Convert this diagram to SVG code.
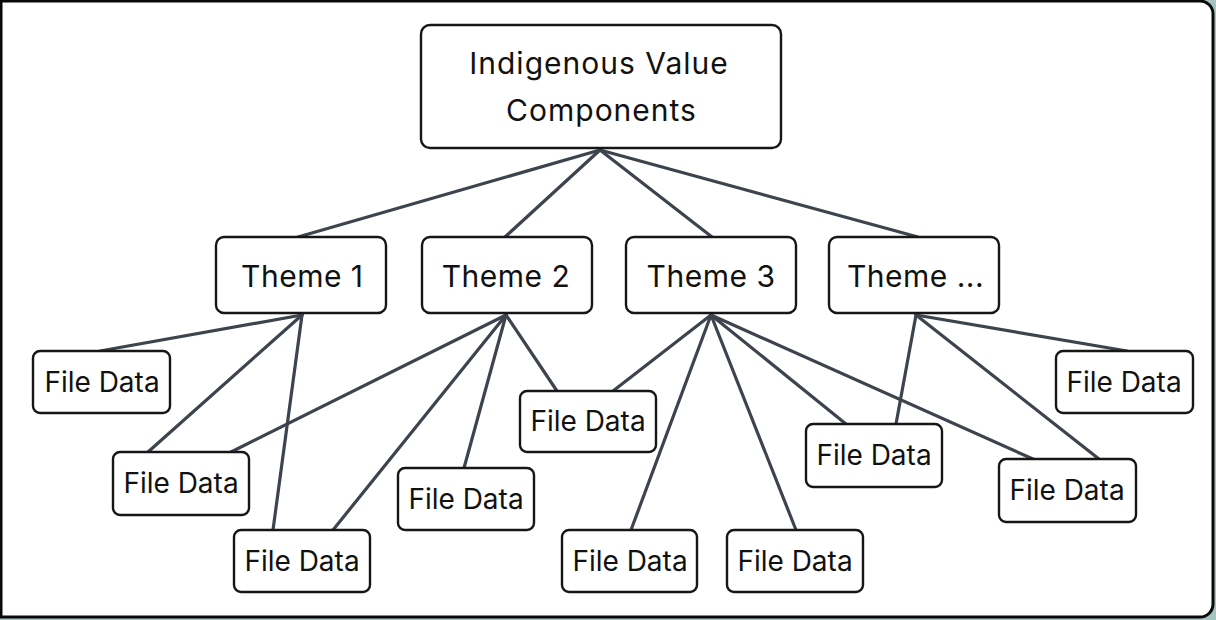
<svg xmlns="http://www.w3.org/2000/svg" width="1216" height="620" viewBox="0 0 1216 620">
<style>
.node rect{fill:#fff;stroke:#161616;stroke-width:2.4}
.t{font-family:Inter,"Liberation Sans",sans-serif;fill:#111;text-anchor:middle}
.big{font-size:30px;letter-spacing:1px}
.th{font-size:30px;letter-spacing:0.5px}
.fd{font-size:28px}
#connectors line{stroke:#3d444d;stroke-width:3.2;stroke-linecap:round}
</style>
<rect x="0" y="0" width="1216" height="620" fill="#a7c4c1"/>
<path d="M1,1 H1200 A13,13 0 0 1 1213,14 V604 A13,13 0 0 1 1200,617 H1 Z" fill="#fff" stroke="#0a0a0a" stroke-width="3"/>
<g id="connectors">
<line x1="600" y1="150" x2="298" y2="237"/>
<line x1="600" y1="150" x2="505" y2="237"/>
<line x1="600" y1="150" x2="712" y2="237"/>
<line x1="600" y1="150" x2="918" y2="237"/>
<line x1="302" y1="315" x2="100" y2="351"/>
<line x1="302" y1="315" x2="148" y2="452"/>
<line x1="302" y1="315" x2="273" y2="530"/>
<line x1="506" y1="315" x2="231" y2="452"/>
<line x1="506" y1="315" x2="333" y2="530"/>
<line x1="506" y1="315" x2="464" y2="468"/>
<line x1="506" y1="315" x2="557" y2="391"/>
<line x1="711" y1="315" x2="613" y2="391"/>
<line x1="711" y1="315" x2="631" y2="530"/>
<line x1="711" y1="315" x2="796" y2="530"/>
<line x1="711" y1="315" x2="846" y2="424"/>
<line x1="711" y1="315" x2="1033" y2="459"/>
<line x1="916" y1="315" x2="896" y2="424"/>
<line x1="916" y1="315" x2="1099" y2="459"/>
<line x1="916" y1="315" x2="1127" y2="351"/>
</g>
<g id="root" class="node"><rect x="421" y="25" width="360" height="123" rx="9"/><text class="t big" x="599" y="73.5">Indigenous Value</text><text class="t big" x="601.5" y="120.7">Components</text></g>
<g id="theme1" class="node"><rect x="216" y="237" width="170" height="76" rx="8"/><text class="t th" x="302.3" y="287">Theme 1</text></g>
<g id="theme2" class="node"><rect x="422" y="237" width="170" height="76" rx="8"/><text class="t th" x="506" y="287">Theme 2</text></g>
<g id="theme3" class="node"><rect x="626" y="237" width="170" height="76" rx="8"/><text class="t th" x="711" y="287">Theme 3</text></g>
<g id="theme4" class="node"><rect x="829" y="237" width="170" height="76" rx="8"/><text class="t th" x="915.5" y="287">Theme ...</text></g>
<g id="fd1" class="node"><rect x="33" y="351" width="137" height="62" rx="7"/><text class="t fd" x="102" y="391.7">File Data</text></g>
<g id="fd2" class="node"><rect x="113" y="452" width="136" height="63" rx="7"/><text class="t fd" x="181" y="493">File Data</text></g>
<g id="fd3" class="node"><rect x="234" y="530" width="136" height="62" rx="7"/><text class="t fd" x="302" y="571">File Data</text></g>
<g id="fd4" class="node"><rect x="398" y="468" width="136" height="62" rx="7"/><text class="t fd" x="466" y="509">File Data</text></g>
<g id="fd5" class="node"><rect x="520" y="391" width="136" height="61" rx="7"/><text class="t fd" x="588" y="431">File Data</text></g>
<g id="fd6" class="node"><rect x="562" y="530" width="135" height="62" rx="7"/><text class="t fd" x="630" y="571">File Data</text></g>
<g id="fd7" class="node"><rect x="727" y="530" width="136" height="62" rx="7"/><text class="t fd" x="795" y="571">File Data</text></g>
<g id="fd8" class="node"><rect x="806" y="424" width="136" height="63" rx="7"/><text class="t fd" x="874" y="465">File Data</text></g>
<g id="fd9" class="node"><rect x="999" y="459" width="137" height="63" rx="7"/><text class="t fd" x="1067" y="500">File Data</text></g>
<g id="fd10" class="node"><rect x="1056" y="351" width="137" height="62" rx="7"/><text class="t fd" x="1124" y="391.7">File Data</text></g>
</svg>
